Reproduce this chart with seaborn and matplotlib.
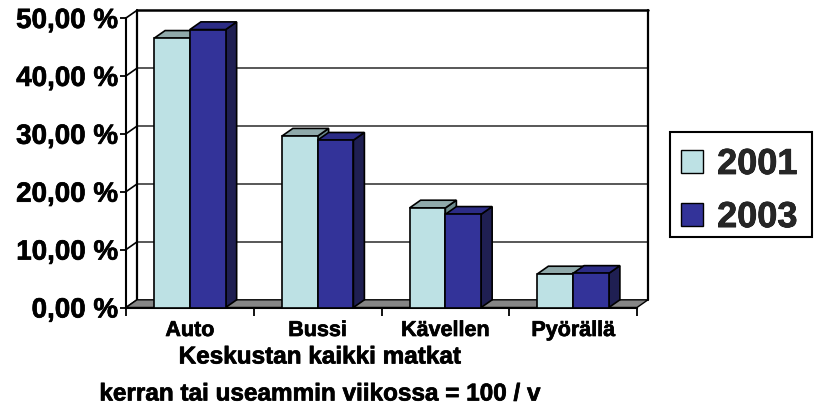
import numpy as np
import pandas as pd
import matplotlib
matplotlib.use('Agg')
import matplotlib.pyplot as plt
import matplotlib.patheffects as pe
import seaborn as sns
from matplotlib.patches import Polygon, Patch, Rectangle

# ---------------- data ----------------
categories = ['Auto', 'Bussi', 'Kävellen', 'Pyörällä']
years = ['2001', '2003']
values_2001 = [46.5, 29.6, 17.2, 5.8]
values_2003 = [48.0, 28.9, 16.1, 5.9]
y_ticks = [0, 10, 20, 30, 40, 50]
y_tick_labels = ['0,00 %', '10,00 %', '20,00 %', '30,00 %', '40,00 %', '50,00 %']
title_lines = ['Keskustan kaikki matkat', 'kerran tai useammin viikossa = 100 / v']

front_colors = {'2001': '#BDE1E4', '2003': '#333399'}
top_colors = {'2001': '#8FA9AA', '2003': '#2C2C86'}
side_colors = {'2001': '#6C8A8C', '2003': '#1F1F52'}

df = pd.DataFrame({
    'Kulkutapa': categories * 2,
    'Vuosi': [years[0]] * len(categories) + [years[1]] * len(categories),
    'Osuus': values_2001 + values_2003,
})

sns.set_theme(style='white')
plt.rcParams['font.family'] = ['Liberation Sans', 'DejaVu Sans']
plt.rcParams['font.weight'] = 'bold'

heavy = [pe.Stroke(linewidth=0.5, foreground='black'), pe.Normal()]

W, H = 817, 413
fig = plt.figure(figsize=(W / 100, H / 100), dpi=100)
fig.patch.set_facecolor('white')
ax_left, ax_right, ax_bottom, ax_top = 126, 637, 307.5, 18
ax = fig.add_axes([ax_left / W, 1 - ax_bottom / H,
                   (ax_right - ax_left) / W, (ax_bottom - ax_top) / H])

sns.barplot(data=df, x='Kulkutapa', y='Osuus', hue='Vuosi', hue_order=years,
            palette=front_colors, width=0.56, dodge=True, saturation=1,
            edgecolor='black', linewidth=1.2, legend=False, ax=ax, errorbar=None)

ax.set_xlim(-0.5, len(categories) - 0.5)
ax.set_ylim(0, 50)
ax.set_facecolor('none')

# 3D depth offsets (in data units)
DX = 11 / (ax_right - ax_left) * len(categories)
DY = 7.7 / (ax_bottom - ax_top) * 50
x_lo, x_hi = -0.5, len(categories) - 0.5

# back wall gridlines
for v in y_ticks[1:-1]:
    ax.plot([x_lo + DX, x_hi + DX], [v + DY, v + DY], color='#2a2a2a', lw=1.1,
            clip_on=False, zorder=1)
# back wall border
ax.plot([x_lo + DX, x_hi + DX], [50 + DY, 50 + DY], color='black', lw=1.8, clip_on=False, zorder=1)
ax.plot([x_hi + DX, x_hi + DX], [DY, 50 + DY], color='black', lw=1.6, clip_on=False, zorder=1)
ax.plot([x_lo + DX, x_lo + DX], [DY, 50 + DY], color='black', lw=1.6, clip_on=False, zorder=1)
# left wall diagonals
for v in y_ticks:
    ax.plot([x_lo, x_lo + DX], [v, v + DY], color='black', lw=1.2, clip_on=False, zorder=1)
# floor
floor = Polygon([(x_lo, 0), (x_hi, 0), (x_hi + DX, DY), (x_lo + DX, DY)], closed=True,
                facecolor='#858585', edgecolor='black', lw=1.0, clip_on=False, zorder=2)
ax.add_patch(floor)

# 3D bar faces
for idx, (container, yr) in enumerate(zip(ax.containers, years)):
    base = 3 + idx
    for bar in container:
        x0 = bar.get_x()
        w = bar.get_width()
        h = bar.get_height()
        x1 = x0 + w
        side = Polygon([(x1, 0), (x1 + DX, DY), (x1 + DX, h + DY), (x1, h)], closed=True,
                       facecolor=side_colors[yr], edgecolor='black', lw=1.2,
                       clip_on=False, zorder=base + 0.1)
        top = Polygon([(x0, h), (x1, h), (x1 + DX, h + DY), (x0 + DX, h + DY)], closed=True,
                      facecolor=top_colors[yr], edgecolor='black', lw=1.2,
                      clip_on=False, zorder=base + 0.2)
        ax.add_patch(side)
        ax.add_patch(top)
        bar.set_zorder(base + 0.3)
        bar.set_clip_on(False)

# spines
for s in ['top', 'right']:
    ax.spines[s].set_visible(False)
for s in ['left', 'bottom']:
    ax.spines[s].set_visible(True)
    ax.spines[s].set_color('black')
    ax.spines[s].set_linewidth(1.5)
    ax.spines[s].set_zorder(2.5)

# ticks
ax.set_yticks(y_ticks)
ax.set_yticklabels(y_tick_labels, fontsize=20, fontweight='bold')
ax.tick_params(axis='y', left=True, length=4, width=1.3, pad=1.5, direction='out', colors='black')
ax.set_xticks(range(len(categories)))
ax.set_xticklabels(categories, fontsize=15.5, fontweight='bold')
ax.set_xticks(np.arange(len(categories) + 1) - 0.5, minor=True)
ax.tick_params(axis='x', which='major', bottom=True, length=0, pad=9, colors='black')
ax.tick_params(axis='x', which='minor', bottom=True, length=6, width=1.3, direction='out', colors='black')
ax.set_xlabel('')
ax.set_ylabel('')
ax.grid(False)
for t in ax.get_xticklabels() + ax.get_yticklabels():
    t.set_path_effects(heavy)

# titles below axis
t1 = fig.text(320 / W, 1 - 357 / H, title_lines[0], ha='center', va='center',
              fontsize=17.5, fontweight='bold', color='black')
t2 = fig.text(320 / W, 1 - 394 / H, title_lines[1], ha='center', va='center',
              fontsize=17.5, fontweight='bold', color='black')
t1.set_path_effects(heavy)
t2.set_path_effects(heavy)

# legend (frame drawn separately at fixed pixel box)
handles = [Patch(facecolor=front_colors[y], edgecolor='black', linewidth=1.0) for y in years]
leg = fig.legend(handles, years, loc='upper left', bbox_to_anchor=(681 / W, 1 - 147 / H),
                 frameon=False, prop={'size': 26, 'weight': 'bold'},
                 handlelength=0.6, handleheight=0.6, handletextpad=0.4,
                 labelspacing=0.5, borderpad=0, borderaxespad=0)
for t in leg.get_texts():
    t.set_path_effects(heavy)
fig.patches.append(Rectangle((670 / W, 1 - 237 / H), 142 / W, 105 / H,
                             transform=fig.transFigure, fill=False,
                             edgecolor='black', lw=1.5, figure=fig))

fig.savefig('out.png', dpi=100, facecolor='white')
